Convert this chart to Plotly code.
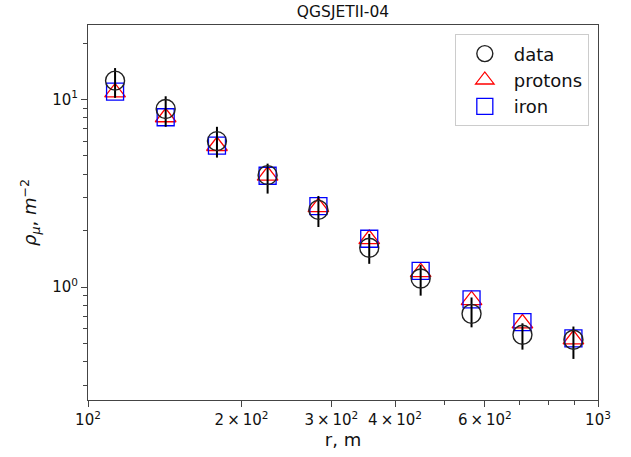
import plotly.graph_objects as go

r_vals = [113, 142, 179, 225, 283, 356, 449, 565, 711, 895]
data_vals = [12.6, 8.9, 6.0, 3.95, 2.58, 1.62, 1.11, 0.72, 0.557, 0.524]
data_err_hi = [2.1, 1.5, 1.15, 0.6, 0.48, 0.3, 0.2, 0.16, 0.084, 0.092]
data_err_lo = [2.4, 1.75, 1.1, 0.8, 0.49, 0.29, 0.21, 0.11, 0.093, 0.11]
proton_vals = [10.9, 8.04, 5.65, 3.93, 2.67, 1.80, 1.20, 0.851, 0.641, 0.526]
iron_vals = [11.0, 8.04, 5.68, 3.92, 2.70, 1.81, 1.22, 0.859, 0.650, 0.533]

x_major_vals = [100, 200, 300, 400, 600, 1000]
x_major_text = ["10<sup>2</sup>", "2\u2009\u00d7\u200910<sup>2</sup>", "3\u2009\u00d7\u200910<sup>2</sup>",
                "4\u2009\u00d7\u200910<sup>2</sup>", "6\u2009\u00d7\u200910<sup>2</sup>", "10<sup>3</sup>"]
x_minor_vals = [500, 700, 800, 900]
y_major_vals = [1, 10]
y_major_text = ["10<sup>0</sup>", "10<sup>1</sup>"]
y_minor_vals = [0.3, 0.4, 0.5, 0.6, 0.7, 0.8, 0.9, 2, 3, 4, 5, 6, 7, 8, 9, 20]

font = "DejaVu Sans, Arial, sans-serif"

fig = go.Figure()
fig.add_trace(go.Scatter(
    x=r_vals, y=proton_vals, mode="markers", name="protons", legendrank=2,
    marker=dict(symbol="triangle-up-open", size=18, color="#ff0000",
                line=dict(width=1.3, color="#ff0000")),
))
fig.add_trace(go.Scatter(
    x=r_vals, y=iron_vals, mode="markers", name="iron", legendrank=3,
    marker=dict(symbol="square-open", size=17, color="#0000ff",
                line=dict(width=1.3, color="#0000ff")),
))
fig.add_trace(go.Scatter(
    x=r_vals, y=data_vals, mode="markers", name="data", legendrank=1,
    marker=dict(symbol="circle-open", size=19, color="#222222",
                line=dict(width=1.4, color="#222222")),
    error_y=dict(type="data", symmetric=False, array=data_err_hi,
                 arrayminus=data_err_lo, width=0, thickness=2, color="black"),
))

axis_common = dict(
    type="log", showline=True, mirror=True, linecolor="#444", linewidth=1,
    ticks="outside", ticklen=6, tickwidth=1, tickcolor="#444",
    showgrid=False, zeroline=False,
    tickfont=dict(family=font, size=15, color="#111"),
)

fig.update_layout(
    width=631, height=457,
    margin=dict(l=88, r=33, t=25, b=53),
    paper_bgcolor="white", plot_bgcolor="white",
    title=dict(text="QGSJETII-04", x=(88 + 598) / 2 / 631, xanchor="center",
               y=1 - 12 / 457, yanchor="middle",
               font=dict(family=font, size=15.5, color="#111")),
    xaxis=dict(
        **axis_common, range=[2, 3], tickmode="array",
        tickvals=x_major_vals, ticktext=x_major_text,
        minor=dict(tickmode="array", tickvals=x_minor_vals, ticks="outside",
                   ticklen=4, tickwidth=1, tickcolor="#444", showgrid=False),
        title=dict(text="r, m", font=dict(family=font, size=18, color="#111"), standoff=3),
    ),
    yaxis=dict(
        **axis_common, range=[-0.602, 1.397], tickmode="array",
        tickvals=y_major_vals, ticktext=y_major_text,
        minor=dict(tickmode="array", tickvals=y_minor_vals, ticks="outside",
                   ticklen=4, tickwidth=1, tickcolor="#444", showgrid=False),
        title=dict(text="<i>\u03c1<sub>\u03bc</sub></i>, <i>m</i><sup>\u22122</sup>",
                   font=dict(family=font, size=18, color="#111"), standoff=10),
    ),
    legend=dict(
        x=0.982, xanchor="right", y=0.975, yanchor="top",
        bgcolor="rgba(255,255,255,0.8)", bordercolor="#cccccc", borderwidth=1,
        font=dict(family=font, size=18, color="#111"),
        itemsizing="trace", itemwidth=48, tracegroupgap=0,
    ),
    showlegend=True,
)

fig.write_html("out.html")
